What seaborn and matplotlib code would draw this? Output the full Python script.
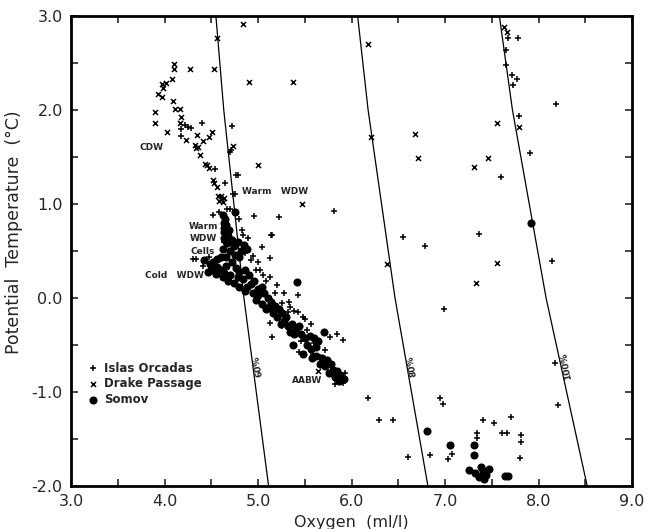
import numpy as np
import pandas as pd
import matplotlib
matplotlib.use("Agg")
import matplotlib.pyplot as plt
import seaborn as sns

# ---------------- data ----------------
# Islas Orcadas (+)
io_o2 = [4.17, 4.17, 4.40, 4.72, 4.71, 4.28, 4.22, 4.25, 4.54, 4.65, 4.78, 4.75, 4.73, 5.22, 5.81,
         4.96, 5.15, 5.04, 4.67, 4.70, 4.52, 4.80, 4.83, 4.84, 4.89, 5.14, 4.30, 4.33, 4.41, 4.47,
         5.13, 5.02, 5.05, 5.20, 5.13, 5.43, 5.13, 5.15, 5.28, 5.33, 5.34, 5.38, 5.32, 5.43, 5.50,
         5.57, 5.44, 5.77, 5.84, 5.91, 5.59, 5.66, 5.70, 5.82, 5.91, 5.93, 5.93, 6.17, 6.29, 6.44,
         6.99, 8.14, 8.17, 6.95, 6.98, 7.41, 7.52, 7.70, 8.21, 7.34, 7.34, 7.61, 7.66, 7.81, 7.81,
         7.07, 7.03, 6.60, 6.84, 7.80, 7.67, 7.78, 7.65, 7.65, 7.71, 7.77, 7.73, 8.19, 7.79, 7.91,
         7.60, 6.55, 6.79, 7.36, 4.76, 4.70, 4.95, 5.00, 4.63, 4.88, 5.25, 5.60, 5.72, 5.48,
         4.92, 4.98, 5.08, 5.18, 5.26, 4.58, 4.86, 5.46, 5.52]
io_temp = [1.80, 1.72, 1.86, 1.83, 1.57, 1.81, 1.84, 1.82, 1.37, 1.22, 1.31, 1.11, 1.11, 0.86, 0.93,
           0.87, 0.67, 0.54, 0.95, 0.95, 0.88, 0.84, 0.72, 0.67, 0.64, 0.67, 0.41, 0.41, 0.34, 0.44,
           0.43, 0.30, 0.24, 0.14, 0.22, 0.03, -0.27, -0.41, 0.05, -0.04, -0.10, -0.14, -0.15, -0.15, -0.22,
           -0.28, -0.57, -0.41, -0.38, -0.45, -0.59, -0.63, -0.68, -0.91, -0.90, -0.86, -0.80, -1.06, -1.30, -1.30,
           -0.12, 0.39, -0.69, -1.06, -1.13, -1.30, -1.33, -1.26, -1.14, -1.44, -1.49, -1.43, -1.43, -1.46, -1.53,
           -1.66, -1.71, -1.69, -1.67, -1.70, 2.77, 2.77, 2.64, 2.48, 2.37, 2.33, 2.27, 2.06, 1.94, 1.54,
           1.29, 0.65, 0.55, 0.68, 1.31, 1.55, 0.45, 0.38, 0.60, 0.10, -0.30, -0.48, -0.55, -0.20,
           0.40, 0.30, 0.18, 0.05, -0.05, 0.92, 0.48, -0.46, -0.34]

# Drake Passage (x)
dp_o2 = [4.84, 4.56, 4.53, 4.90, 5.37, 6.17, 6.21, 6.68, 6.71, 7.31, 7.46, 7.55, 7.63, 7.66, 7.79,
         4.10, 4.10, 4.27, 4.08, 4.01, 3.97, 3.98, 3.93, 3.97, 4.09, 3.90, 4.11, 4.16, 4.18, 3.90,
         4.16, 4.03, 4.23, 4.35, 4.51, 4.47, 4.41, 4.32, 4.36, 4.34, 4.38, 4.73, 5.00, 4.45, 4.47,
         4.43, 4.52, 4.56, 4.53, 5.47, 4.57, 4.60, 4.63, 4.58, 4.62, 4.60, 6.38, 7.56, 7.33, 5.64]
dp_temp = [2.91, 2.76, 2.44, 2.30, 2.30, 2.70, 1.71, 1.74, 1.49, 1.39, 1.49, 1.86, 2.88, 2.83, 1.82,
           2.49, 2.43, 2.43, 2.33, 2.29, 2.28, 2.23, 2.17, 2.14, 2.09, 1.98, 2.01, 2.01, 1.93, 1.86,
           1.86, 1.76, 1.68, 1.73, 1.77, 1.71, 1.67, 1.63, 1.61, 1.59, 1.52, 1.62, 1.41, 1.41, 1.38,
           1.43, 1.26, 1.18, 1.22, 1.00, 1.08, 1.08, 1.06, 1.03, 1.02, 1.05, 0.36, 0.37, 0.16, -0.78]

# Somov (filled circles)
sv_o2 = [4.62, 4.65, 4.63, 4.66, 4.64, 4.69, 4.75, 4.68, 4.72, 4.65, 4.78, 4.85, 4.88, 4.82, 4.62,
         4.70, 4.75, 4.42, 4.48, 4.52, 4.56, 4.50, 4.60, 4.66, 4.64, 4.72, 4.76, 4.80, 4.86, 4.70,
         4.78, 4.84, 4.90, 4.92, 4.96, 4.88, 5.00, 5.04, 5.06, 5.00, 5.10, 5.14, 5.18, 5.12, 5.22,
         5.26, 5.20, 5.28, 5.30, 5.42, 5.36, 5.40, 5.44, 5.38, 5.46, 5.37, 5.50, 5.55, 5.60, 5.64,
         5.52, 5.62, 5.56, 5.70, 5.62, 5.68, 5.74, 5.72, 5.78, 5.80, 5.84, 5.88, 5.92, 5.86,
         6.81, 7.05, 7.31, 7.31, 7.25, 7.32, 7.36, 7.40, 7.44, 7.47, 7.42, 7.38, 7.64, 7.67, 7.92,
         4.64, 4.64, 4.67, 4.74, 4.80, 4.60, 4.66, 4.56, 4.46, 4.55, 4.62, 4.68, 4.74, 4.80, 4.86,
         4.94, 4.98, 5.04, 5.08, 5.16, 5.24, 5.32, 5.34, 5.48, 5.58, 5.66, 5.76, 5.82]
sv_temp = [0.88, 0.84, 0.80, 0.78, 0.74, 0.72, 0.91, 0.66, 0.62, 0.62, 0.60, 0.56, 0.52, 0.50, 0.52,
           0.50, 0.46, 0.40, 0.36, 0.38, 0.33, 0.30, 0.30, 0.34, 0.27, 0.38, 0.32, 0.28, 0.30, 0.24,
           0.22, 0.20, 0.24, 0.15, 0.18, 0.12, 0.10, 0.12, 0.05, 0.03, 0.00, -0.04, -0.08, -0.10, -0.12,
           -0.16, -0.20, -0.24, -0.20, 0.17, -0.28, -0.32, -0.30, -0.38, -0.38, -0.50, -0.42, -0.40, -0.42, -0.46,
           -0.50, -0.52, -0.54, -0.36, -0.62, -0.64, -0.66, -0.72, -0.70, -0.76, -0.78, -0.82, -0.86, -0.88,
           -1.41, -1.56, -1.56, -1.67, -1.83, -1.86, -1.90, -1.84, -1.88, -1.82, -1.92, -1.80, -1.89, -1.89, 0.80,
           0.70, 0.64, 0.58, 0.55, 0.44, 0.44, 0.44, 0.42, 0.28, 0.26, 0.22, 0.18, 0.16, 0.12, 0.07,
           0.05, -0.02, -0.06, -0.12, -0.16, -0.28, -0.30, -0.36, -0.60, -0.64, -0.70, -0.80, -0.84]

# 100 % oxygen saturation curve (ml/l) vs potential temperature
sat_temp = [3.0, 2.0, 1.0, 0.0, -1.0, -2.0]
sat100_o2 = [7.58, 7.72, 7.90, 8.08, 8.30, 8.52]
sat_levels = [60, 80, 100]

x_ticks = [3.0, 4.0, 5.0, 6.0, 7.0, 8.0, 9.0]
x_ticklabels = ["3.0", "4.0", "5.0", "6.0", "7.0", "8.0", "9.0"]
y_ticks = [3.0, 2.0, 1.0, 0.0, -1.0, -2.0]
y_ticklabels = ["3.0", "2.0", "1.0", "0.0", "-1.0", "-2.0"]

# ---------------- plotting ----------------
sns.set_theme(style="white")
plt.rcParams["font.family"] = ["DejaVu Sans"]

fig = plt.figure(figsize=(6.53, 5.29), dpi=100)
ax = fig.add_axes([0.109, 0.081, 0.859, 0.889])

obs = pd.concat([
    pd.DataFrame({"Oxygen": io_o2, "Temp": io_temp, "ship": "Islas Orcadas"}),
    pd.DataFrame({"Oxygen": dp_o2, "Temp": dp_temp, "ship": "Drake Passage"}),
    pd.DataFrame({"Oxygen": sv_o2, "Temp": sv_temp, "ship": "Somov"}),
], ignore_index=True)

# saturation lines
for lvl in sat_levels:
    d = pd.DataFrame({"Temp": sat_temp,
                      "Oxygen": [v * lvl / 100.0 for v in sat100_o2]})
    sns.lineplot(data=d, x="Oxygen", y="Temp", sort=False, estimator=None,
                 color="black", linewidth=0.9, ax=ax)
    ox = np.interp(-0.72, sat_temp[::-1], [v * lvl / 100.0 for v in sat100_o2][::-1])
    ax.text(ox + 0.06, -0.72, f"{lvl}%", rotation=100.6, ha="center", va="center",
            fontsize=6.5, fontweight="bold")

style_map = {"Islas Orcadas": ("+", 22, 1.1), "Drake Passage": ("x", 13, 1.1), "Somov": ("o", 34, 0)}
for name, (mk, sz, lw) in style_map.items():
    sub = obs[obs["ship"] == name]
    sns.scatterplot(data=sub, x="Oxygen", y="Temp", marker=mk, s=sz, color="black",
                    linewidth=lw, edgecolor="black" if mk == "o" else None, ax=ax, label=name,
                    zorder=3)

ax.set_xlim(3.0, 9.0)
ax.set_ylim(-2.0, 3.0)
ax.set_xticks(x_ticks)
ax.set_xticklabels(x_ticklabels)
ax.set_yticks(y_ticks)
ax.set_yticklabels(y_ticklabels)
ax.set_xticks(np.arange(3.5, 9.0, 1.0), minor=True)
ax.set_yticks(np.arange(-1.5, 3.0, 1.0), minor=True)
ax.tick_params(which="both", direction="in", length=5, width=1.2, top=True, right=True,
               bottom=True, left=True, labelsize=11.5, pad=6)
for sp in ax.spines.values():
    sp.set_linewidth(2.0)
    sp.set_color("black")

ax.set_xlabel("Oxygen  (ml/l)", fontsize=11.5, labelpad=4)
ax.set_ylabel("Potential  Temperature  (°C)", fontsize=12.5, labelpad=6)
ax.yaxis.set_label_coords(-0.085, 0.54)

# water mass annotations
ann = dict(fontsize=6.5, fontweight="bold", ha="center", va="center", zorder=4)
ax.text(3.86, 1.60, "CDW", **ann)
ax.text(5.18, 1.13, "Warm   WDW", **ann)
ax.text(4.41, 0.63, "Warm\nWDW\nCells", linespacing=1.5, **ann)
ax.text(4.10, 0.24, "Cold   WDW", **ann)
ax.text(5.52, -0.88, "AABW", **ann)

leg = ax.legend(loc="upper left", bbox_to_anchor=(0.02, 0.275), frameon=False,
                fontsize=8.5, handletextpad=0.4, labelspacing=0.25, borderaxespad=0,
                handlelength=1.0)
for t in leg.get_texts():
    t.set_fontweight("bold")

fig.savefig("out.png", dpi=100)
